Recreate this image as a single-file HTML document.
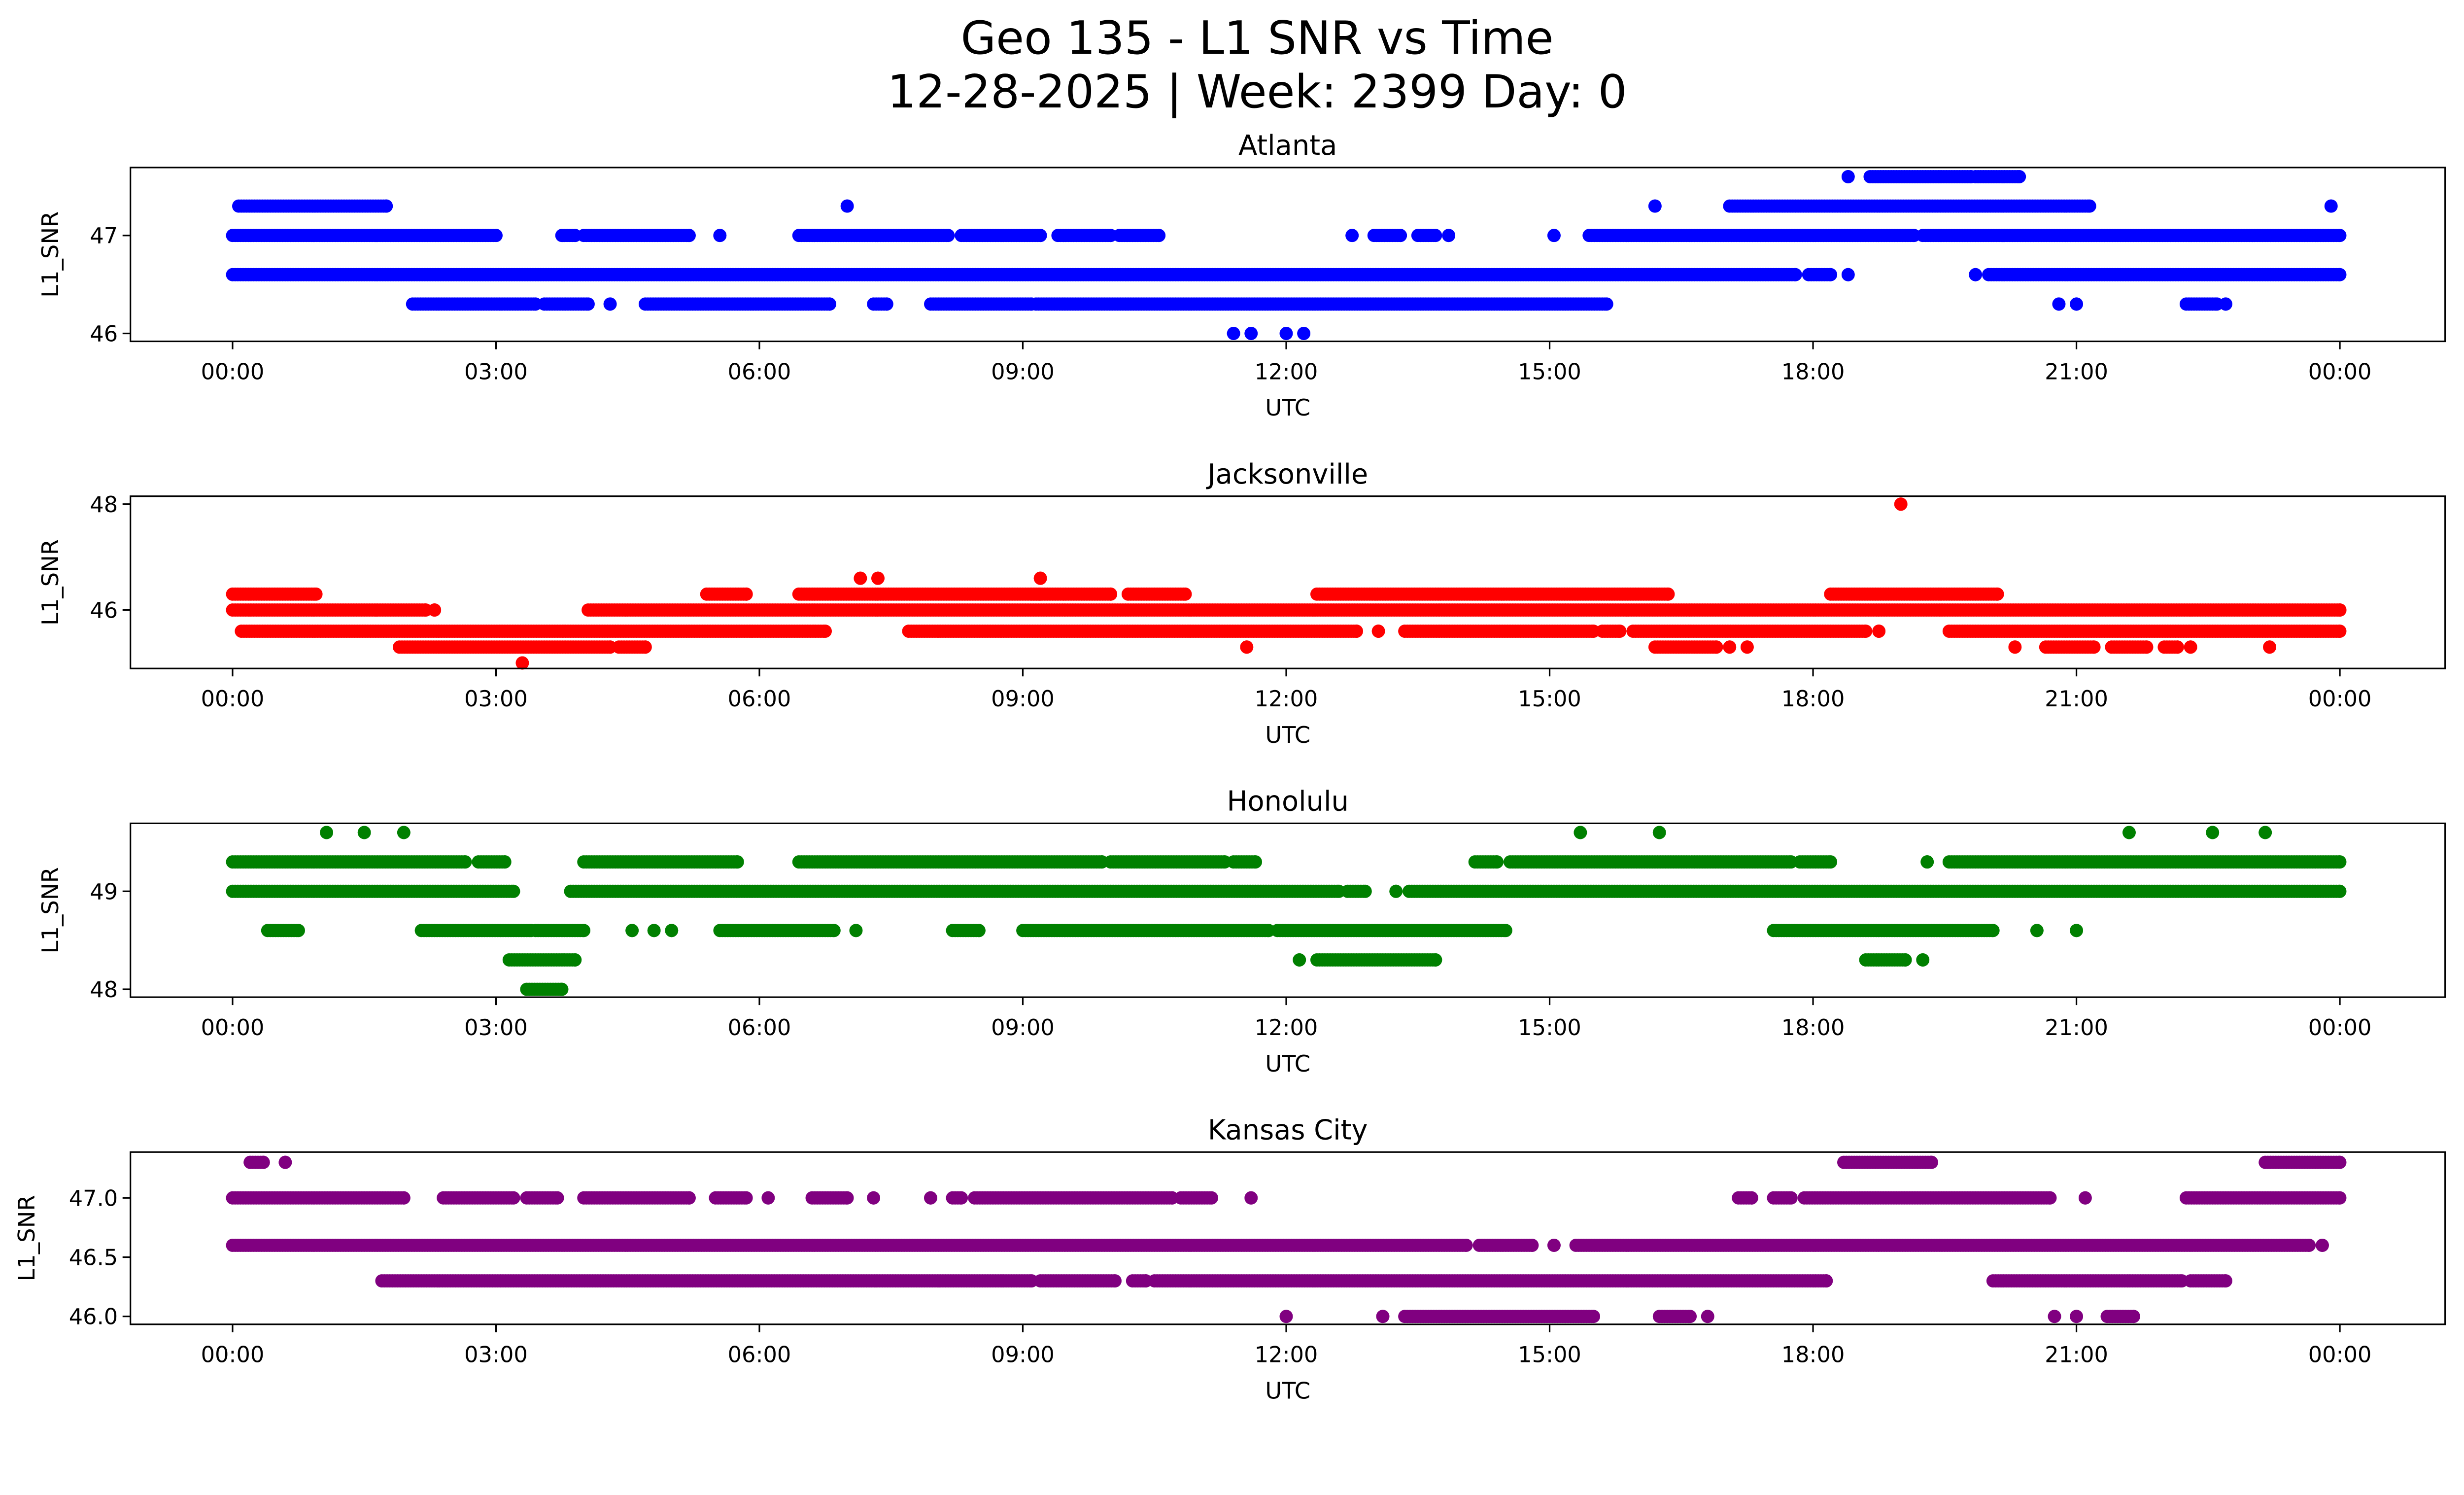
<!DOCTYPE html>
<html><head><meta charset="utf-8">
<style>
html,body{margin:0;padding:0;background:#fff;overflow:hidden;width:100%;height:100%;}
svg{position:fixed;left:0;top:0;width:100vw;height:100vh;display:block;font-family:"DejaVu Sans","Liberation Sans",sans-serif;}
</style></head>
<body>
<svg id="chart" viewBox="0 0 1568 946" preserveAspectRatio="none" xmlns="http://www.w3.org/2000/svg">
<rect x="0" y="0" width="1568" height="946" fill="#fff"/>
<text x="800" y="34" font-size="29" text-anchor="middle">Geo 135 - L1 SNR vs Time</text>
<text x="800" y="68" font-size="29" text-anchor="middle">12-28-2025 | Week: 2399 Day: 0</text>
</svg>
<script>
// x-axis tick labels (hours)
const xTickHours = [0,3,6,9,12,15,18,21,24];
const xTickLabels = ["00:00","03:00","06:00","09:00","12:00","15:00","18:00","21:00","00:00"];

// Station names
const stations = ["Atlanta","Jacksonville","Honolulu","Kansas City"];

// Each series: level -> list of [startHour, endHour] runs of observations
const atlantaRuns = {
  "47.6":[[18.4,18.4],[18.65,19.8],[19.85,20.35]],
  "47.3":[[0.07,1.75],[7.0,7.0],[16.2,16.2],[17.05,21.15],[23.9,23.9]],
  "47.0":[[0,3.0],[3.75,3.9],[4.0,5.2],[5.55,5.55],[6.45,8.15],[8.3,9.2],[9.4,10.0],[10.1,10.55],[12.75,12.75],[13.0,13.3],[13.5,13.7],[13.85,13.85],[15.05,15.05],[15.45,19.15],[19.25,24]],
  "46.6":[[0,17.8],[17.95,18.2],[18.4,18.4],[19.85,19.85],[20.0,24]],
  "46.3":[[2.05,3.45],[3.55,4.05],[4.3,4.3],[4.7,6.8],[7.3,7.45],[7.95,9.1],[9.15,15.65],[20.8,20.8],[21.0,21.0],[22.25,22.6],[22.7,22.7]],
  "46.0":[[11.4,11.4],[11.6,11.6],[12.0,12.0],[12.2,12.2]]
};
const jacksonvilleRuns = {
  "48.0":[[19.0,19.0]],
  "46.6":[[7.15,7.15],[7.35,7.35],[9.2,9.2]],
  "46.3":[[0,0.95],[5.4,5.85],[6.45,9.2],[9.1,10.0],[10.2,10.85],[12.35,16.35],[18.2,20.1]],
  "46.0":[[0,2.2],[2.3,2.3],[4.05,24]],
  "45.6":[[0.1,6.75],[7.7,12.8],[13.05,13.05],[13.35,15.5],[15.6,15.8],[15.95,18.6],[18.75,18.75],[19.55,24]],
  "45.3":[[1.9,4.3],[4.4,4.7],[11.55,11.55],[16.2,16.9],[17.05,17.05],[17.25,17.25],[20.3,20.3],[20.65,21.2],[21.4,21.8],[22.0,22.15],[22.3,22.3],[23.2,23.2]],
  "45.0":[[3.3,3.3]]
};
const honoluluRuns = {
  "49.6":[[1.07,1.07],[1.5,1.5],[1.95,1.95],[15.35,15.35],[16.25,16.25],[21.6,21.6],[22.55,22.55],[23.15,23.15]],
  "49.3":[[0,2.65],[2.8,3.1],[4.0,5.75],[6.45,9.9],[10.0,11.3],[11.4,11.65],[14.15,14.4],[14.55,17.75],[17.85,18.2],[19.3,19.3],[19.55,24]],
  "49.0":[[0,3.2],[3.85,12.6],[12.7,12.9],[13.25,13.25],[13.4,24]],
  "48.6":[[0.4,0.75],[2.15,3.4],[3.45,4.0],[4.55,4.55],[4.8,4.8],[5.0,5.0],[5.55,6.85],[7.1,7.1],[8.2,8.5],[9.0,11.8],[11.9,14.5],[17.55,20.05],[20.55,20.55],[21.0,21.0]],
  "48.3":[[3.15,3.9],[12.15,12.15],[12.35,13.7],[18.6,19.05],[19.25,19.25]],
  "48.0":[[3.35,3.75]]
};
const kansasRuns = {
  "47.3":[[0.2,0.35],[0.6,0.6],[18.35,19.35],[23.15,24]],
  "47.0":[[0,1.95],[2.4,3.2],[3.35,3.7],[4.0,5.2],[5.5,5.85],[6.1,6.1],[6.6,7.0],[7.3,7.3],[7.95,7.95],[8.2,8.3],[8.45,10.7],[10.8,11.15],[11.6,11.6],[17.15,17.3],[17.55,17.75],[17.9,20.7],[21.1,21.1],[22.25,24]],
  "46.6":[[0,14.05],[14.2,14.8],[15.05,15.05],[15.3,23.65],[23.8,23.8]],
  "46.3":[[1.7,9.1],[9.2,10.05],[10.25,10.4],[10.5,18.15],[20.05,22.2],[22.3,22.7]],
  "46.0":[[12.0,12.0],[13.1,13.1],[13.35,15.5],[16.25,16.6],[16.8,16.8],[20.75,20.75],[21.0,21.0],[21.35,21.65]]
};

// y ticks per panel
const atlantaYTicks = [46,47];
const jacksonvilleYTicks = [46,48];
const honoluluYTicks = [48,49];
const kansasYTicks = [46.0,46.5,47.0];

const NS="http://www.w3.org/2000/svg";
const svg=document.getElementById('chart');
function mk(tag,attrs,parent){const e=document.createElementNS(NS,tag);for(const k in attrs)e.setAttribute(k,attrs[k]);(parent||svg).appendChild(e);return e;}

const panels=[
 {name:"atlanta",runs:atlantaRuns,ticks:atlantaYTicks,top:106,bot:216,yA:46,pA:211,yB:47,pB:149,color:"#0000ff",dec:0,labX:37},
 {name:"jacksonville",runs:jacksonvilleRuns,ticks:jacksonvilleYTicks,top:314,bot:423,yA:46,pA:386,yB:48,pB:319,color:"#ff0000",dec:0,labX:37},
 {name:"honolulu",runs:honoluluRuns,ticks:honoluluYTicks,top:521,bot:631,yA:48,pA:626,yB:49,pB:564,color:"#008000",dec:0,labX:37},
 {name:"kansas-city",runs:kansasRuns,ticks:kansasYTicks,top:729,bot:838,yA:46,pA:833,yB:47,pB:758,color:"#800080",dec:1,labX:22}
];
const L=83,R=1556,X0=148,X1=1489;
const xs=h=>X0+(X1-X0)*h/24;

panels.forEach((p,i)=>{
  const ys=v=>p.pA+(v-p.yA)*(p.pB-p.pA)/(p.yB-p.yA);
  const g=mk('g',{});
  
  
  const t=mk('text',{x:(L+R)/2,y:p.top-8,'font-size':17.5,'text-anchor':'middle'},g);
  t.textContent=stations[i];
  
  
  const pts=mk('g',{fill:p.color},g);
  
  
  for(const lvl in p.runs){
    const y=ys(parseFloat(lvl));
    p.runs[lvl].forEach(r=>{
      for(let h=r[0];h<=r[1]+1e-9;h+=0.03){
        const c=mk('circle',{cx:xs(h).toFixed(2),cy:y.toFixed(2),r:4.2},pts);
        
        
      }
      const e=mk('circle',{cx:xs(r[1]).toFixed(2),cy:y.toFixed(2),r:4.2},pts);
      
      
    });
  }
  const fr=mk('rect',{x:L,y:p.top,width:R-L,height:p.bot-p.top,fill:'none',stroke:'#000','stroke-width':1},g);
  
  
  xTickHours.forEach((h,k)=>{
    const x=xs(h);
    mk('line',{x1:x,x2:x,y1:p.bot,y2:p.bot+5,stroke:'#000','stroke-width':1},g);
    const tl=mk('text',{x:x,y:p.bot+24,'font-size':14,'text-anchor':'middle'},g);
    tl.textContent=xTickLabels[k];
    
    
  });
  const xl=mk('text',{x:(L+R)/2,y:p.bot+47,'font-size':14.5,'text-anchor':'middle'},g);
  xl.textContent="UTC";
  
  
  p.ticks.forEach(v=>{
    const y=ys(v);
    mk('line',{x1:L-5,x2:L,y1:y,y2:y,stroke:'#000','stroke-width':1},g);
    const tl=mk('text',{x:L-8,y:y+5,'font-size':14,'text-anchor':'end'},g);
    tl.textContent=v.toFixed(p.dec);
    
    
  });
  const yc=(p.top+p.bot)/2;
  const yl=mk('text',{x:p.labX,y:yc,'font-size':14.5,'text-anchor':'middle',transform:`rotate(-90 ${p.labX} ${yc})`},g);
  yl.textContent="L1_SNR";
  
  
});
</script>
</body></html>
